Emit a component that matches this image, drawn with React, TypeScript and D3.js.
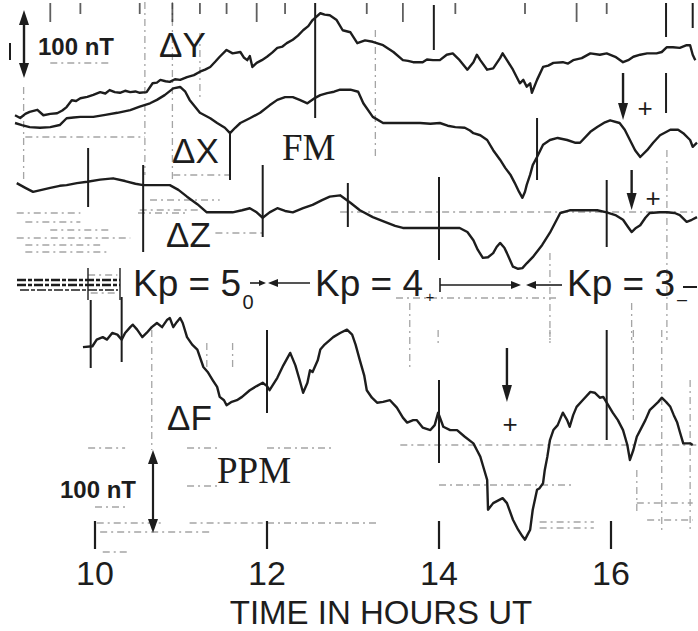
import React from 'react';
import * as d3 from 'd3';

type Pt = [number, number]; // [hour UT, deflection nT]

const hourTicks = [10, 12, 14, 16];
const axisTitle = 'TIME IN HOURS UT';

// Fluxgate magnetometer (FM) components, nT relative to each trace's reference level
const deltaY: Pt[] = [
  [9.07, 7], [9.13, 3], [9.19, 9], [9.24, 12], [9.33, 15], [9.4, 7], [9.48, 9], [9.56, 10], [9.62, 14], [9.67, 19], [9.73, 29],
  [9.78, 28], [9.83, 32], [9.91, 34], [9.98, 37], [10.06, 41], [10.12, 39], [10.17, 44], [10.23, 41], [10.29, 40], [10.35, 43], [10.41, 41],
  [10.47, 42], [10.52, 40], [10.6, 41], [10.67, 54], [10.72, 55], [10.76, 59], [10.82, 57], [10.87, 56], [10.93, 60], [10.99, 59], [11.07, 63], [11.15, 66], [11.22, 71],
  [11.28, 74], [11.34, 78], [11.4, 86], [11.45, 93], [11.53, 103], [11.6, 98], [11.69, 100], [11.73, 92], [11.77, 88], [11.8, 94], [11.83, 78], [11.88, 84],
  [11.94, 88], [12.0, 93], [12.06, 99], [12.12, 106], [12.18, 108], [12.23, 113], [12.3, 118], [12.36, 124], [12.42, 132], [12.48, 138], [12.53, 147],
  [12.62, 157], [12.67, 155], [12.73, 154], [12.81, 147], [12.88, 132], [12.97, 129], [13.05, 113], [13.14, 117], [13.23, 115],
  [13.35, 110], [13.47, 100], [13.58, 88], [13.64, 87], [13.7, 85], [13.81, 85], [13.86, 89], [13.93, 88], [14.01, 88], [14.09, 96],
  [14.16, 98], [14.24, 88], [14.33, 74], [14.4, 85], [14.44, 96], [14.48, 88], [14.56, 74], [14.63, 76], [14.71, 91],
  [14.74, 98], [14.79, 88], [14.86, 74], [14.94, 54], [14.98, 59], [15.02, 49], [15.06, 54], [15.08, 40], [15.14, 59],
  [15.21, 78], [15.27, 80], [15.33, 84], [15.44, 85], [15.5, 83], [15.56, 88], [15.66, 91], [15.76, 98], [15.87, 96], [15.95, 98], [16.05, 93],
  [16.14, 85], [16.2, 88], [16.26, 93], [16.34, 96], [16.42, 98], [16.53, 98], [16.59, 100], [16.65, 107],
  [16.72, 107], [16.8, 106], [16.88, 110], [16.92, 110], [16.95, 96], [16.98, 88],
];

const deltaX: Pt[] = [
  [9.07, 25], [9.15, 22], [9.24, 19], [9.36, 18], [9.48, 19], [9.59, 22], [9.67, 32], [9.75, 33], [9.83, 34], [9.98, 34], [10.12, 37],
  [10.26, 40], [10.41, 44], [10.52, 49], [10.64, 54], [10.72, 59], [10.81, 66], [10.91, 76], [10.99, 78],
  [11.05, 71], [11.1, 59], [11.22, 40], [11.34, 32], [11.42, 25], [11.51, 18], [11.57, 10], [11.63, 18],
  [11.69, 25], [11.8, 32], [11.92, 40], [12.03, 51], [12.12, 59], [12.21, 63], [12.3, 63], [12.38, 59],
  [12.47, 54], [12.56, 62], [12.62, 66], [12.7, 69], [12.78, 71], [12.85, 74], [12.97, 74], [13.06, 71],
  [13.12, 54], [13.23, 34], [13.35, 25], [13.49, 25], [13.63, 25], [13.78, 25], [13.9, 24], [14.01, 25],
  [14.1, 21], [14.19, 19], [14.3, 18], [14.36, 14], [14.4, 10], [14.48, 7], [14.56, 0], [14.63, -15], [14.71, -29],
  [14.77, -41], [14.83, -51], [14.88, -63], [14.93, -76], [14.97, -85], [15.0, -76], [15.02, -66], [15.06, -51],
  [15.09, -37], [15.14, -25], [15.21, -7], [15.29, 0], [15.38, 3], [15.49, 0], [15.58, -4], [15.64, -4],
  [15.76, 12], [15.84, 19], [15.93, 26], [15.99, 29], [16.1, 25], [16.16, 15], [16.22, 0], [16.28, -15],
  [16.34, -25], [16.42, -15], [16.49, -4], [16.57, 7], [16.69, 15], [16.78, 15], [16.84, 10], [16.92, 0],
  [16.95, -10], [17.0, -4],
];

const deltaZ: Pt[] = [
  [9.09, 69], [9.19, 62], [9.28, 56], [9.38, 59], [9.48, 62], [9.59, 65], [9.67, 66], [9.79, 69], [9.91, 71],
  [10.06, 74], [10.21, 76], [10.35, 72], [10.47, 68], [10.56, 66], [10.7, 66], [10.87, 66], [10.97, 59],
  [11.07, 49], [11.19, 38], [11.3, 26], [11.45, 26], [11.6, 26], [11.71, 29], [11.8, 32], [11.88, 26],
  [11.95, 18], [12.03, 26], [12.12, 32], [12.21, 28], [12.3, 26], [12.42, 32], [12.53, 37], [12.64, 44],
  [12.73, 49], [12.85, 51], [12.97, 40], [13.08, 29], [13.23, 19], [13.37, 12], [13.49, 6], [13.58, 3],
  [13.78, 3], [14.01, 3], [14.24, 3], [14.33, -3], [14.4, -15], [14.45, -29], [14.51, -41], [14.57, -40],
  [14.63, -34], [14.67, -25], [14.71, -19], [14.76, -26], [14.79, -34], [14.86, -54], [14.92, -57], [14.97, -56],
  [15.02, -49], [15.09, -40], [15.2, -22], [15.29, -4], [15.41, 25], [15.52, 29], [15.64, 29], [15.76, 29],
  [15.84, 29], [15.95, 26], [16.05, 22], [16.14, 15], [16.2, 4], [16.24, -3], [16.29, 3], [16.34, 7], [16.4, 18],
  [16.45, 25], [16.57, 26], [16.65, 26], [16.74, 25], [16.8, 22], [16.88, 12], [16.94, 15], [17.0, 19],
];

// Proton precession magnetometer (PPM) total field
const deltaF: Pt[] = [
  [9.86, 124], [9.97, 125], [10.02, 133], [10.09, 136], [10.14, 133], [10.2, 141], [10.26, 139], [10.31, 133],
  [10.35, 141], [10.41, 148], [10.44, 151], [10.49, 145], [10.55, 136], [10.6, 141], [10.66, 148], [10.72, 153],
  [10.78, 148], [10.84, 157], [10.87, 159], [10.91, 148], [10.95, 154], [10.99, 159], [11.02, 153], [11.07, 136],
  [11.13, 127], [11.19, 121], [11.26, 100], [11.31, 94], [11.37, 84], [11.42, 76], [11.45, 64], [11.5, 60],
  [11.53, 54], [11.59, 58], [11.65, 60], [11.71, 64], [11.8, 72], [11.88, 77], [11.95, 81], [12.0, 77],
  [12.03, 72], [12.12, 87], [12.19, 102], [12.27, 117], [12.33, 102], [12.38, 84], [12.42, 69], [12.47, 81],
  [12.5, 96], [12.53, 94], [12.59, 108], [12.62, 121], [12.67, 127], [12.77, 136], [12.85, 141], [12.93, 145],
  [12.99, 139], [13.03, 127], [13.08, 108], [13.13, 90], [13.16, 72], [13.22, 63], [13.28, 57], [13.35, 58],
  [13.43, 60], [13.51, 51], [13.58, 39], [13.63, 33], [13.7, 36], [13.74, 36], [13.81, 27], [13.9, 24],
  [13.95, 30], [13.99, 45], [14.05, 28], [14.13, 24], [14.21, 24], [14.3, 16], [14.4, 8], [14.44, 0],
  [14.48, -8], [14.52, -22], [14.56, -36], [14.57, -72], [14.63, -64], [14.74, -58], [14.79, -64], [14.86, -84],
  [14.92, -96], [14.97, -104], [15.0, -108], [15.03, -102], [15.06, -96], [15.09, -72], [15.14, -48],
  [15.17, -46], [15.21, -40], [15.23, -24], [15.26, -8], [15.29, 12], [15.33, 24], [15.38, 30], [15.44, 45],
  [15.49, 36], [15.52, 28], [15.56, 42], [15.6, 52], [15.67, 60], [15.76, 70], [15.81, 69], [15.87, 63],
  [15.91, 64], [15.95, 57], [16.02, 45], [16.08, 36], [16.14, 24], [16.19, 6], [16.22, -12], [16.26, 0],
  [16.3, 16], [16.34, 24], [16.4, 36], [16.45, 48], [16.49, 52], [16.55, 58], [16.59, 63], [16.64, 58],
  [16.69, 52], [16.73, 42], [16.77, 33], [16.8, 22], [16.84, 8], [16.92, 8], [16.95, 6],
];

// Kp boundaries (UT hours) between 3-hour intervals
const kpBoundaries = [12, 15];
const kpLabels = ['Kp = 5', 'Kp = 4', 'Kp = 3'];
const kpSubscripts = ['0', '+', '\u2013'];

// Times of the arrows marking the onset events
const eventTimes = { y: 16.14, z: 16.24, f: 14.79 };

const INK = '#1d1d1d';
const SANS = '"Liberation Sans", Arial, Helvetica, sans-serif';
const SERIF = '"Liberation Serif", "Times New Roman", serif';

const x = d3.scaleLinear().domain([10, 16]).range([95, 611]);
const fmPx = 0.68; // px per nT on fluxgate record
const ppmPx = 0.83; // px per nT on PPM record
const traceY = (base: number, k: number) => d3.scaleLinear().domain([0, 100]).range([base, base - 100 * k]);

const yDY = traceY(120, fmPx);
const yDX = traceY(140, fmPx);
const yDZ = traceY(230, fmPx);
const yDF = traceY(450, ppmPx);

const linePath = (data: Pt[], y: d3.ScaleLinear<number, number>) =>
  d3.line<Pt>().x((d) => x(d[0])).y((d) => y(d[1]))(data) || '';

// Record marks on the chart paper: [hour, y1, y2]
const solidMarks: [number, number, number][] = [
  [12.56, 3, 118], [11.57, 132, 180], [11.95, 165, 237], [9.92, 148, 207], [10.56, 165, 252],
  [12.94, 183, 227], [14.0, 177, 260], [15.95, 180, 247], [13.94, 5, 50], [15.14, 118, 180],
  [16.64, 3, 37], [16.64, 73, 113], [16.95, 3, 28], [14.0, 380, 463], [15.95, 330, 440],
  [12.0, 330, 413], [9.95, 300, 368], [10.31, 297, 362],
];
const dashedMarks: [number, number, number][] = [
  [13.26, 30, 160], [10.9, 2, 180], [11.22, 33, 100], [9.17, 87, 180], [10.58, 2, 175],
  [16.26, 330, 420], [16.59, 330, 530], [16.92, 380, 530], [15.29, 253, 340], [16.65, 150, 340],
  [16.24, 303, 340], [13.66, 303, 370], [10.66, 330, 450], [11.3, 343, 367], [11.6, 343, 367],
  [16.3, 470, 515], [15.29, 330, 347], [13.99, 330, 345],
];
const topTicks = [9.48, 9.83, 10.52, 10.9, 11.22, 11.53, 11.88, 12.21, 13.16, 13.58, 14.19, 15.0, 15.6, 15.95];
// Horizontal paper marks: [y, hourStart, hourEnd]
const paperLines: [number, number, number][] = [
  [63, 9.48, 10.17], [137, 9.19, 10.58], [212, 12.85, 17.0], [213, 10.5, 11.07], [175, 10.91, 11.57],
  [213, 9.09, 9.83], [222, 9.19, 9.83], [230, 9.48, 10.17], [238, 9.09, 10.41], [245, 9.19, 10.06],
  [252, 9.19, 10.17], [200, 10.64, 11.45], [210, 10.52, 11.22], [233, 11.4, 11.95],
  [275, 9.92, 10.26], [293, 9.95, 10.26], [298, 13.5, 15.4], [448, 9.92, 10.35], [448, 11.07, 11.45],
  [448, 12.0, 12.78], [486, 11.07, 11.45], [445, 13.55, 17.0], [485, 14.0, 15.55], [522, 15.17, 15.8],
  [528, 15.17, 15.8], [503, 16.3, 16.95], [520, 16.42, 16.95], [523, 10.02, 10.8], [523, 11.1, 11.95],
  [523, 12.0, 13.3], [532, 10.06, 11.34], [552, 10.09, 10.41], [507, 10.0, 10.38],
];

const Arrowhead = ({ cx, tip, dir, w = 5, len = 14 }: { cx: number; tip: number; dir: 1 | -1; w?: number; len?: number }) => (
  <path d={`M${cx},${tip} L${cx - w},${tip - dir * len} L${cx + w},${tip - dir * len} Z`} fill={INK} />
);

const HArrowhead = ({ cy, tip, dir, w = 4, len = 10 }: { cy: number; tip: number; dir: 1 | -1; w?: number; len?: number }) => (
  <path d={`M${tip},${cy} L${tip - dir * len},${cy - w} L${tip - dir * len},${cy + w} Z`} fill={INK} />
);

export default function App() {
  const traceStyle = { fill: 'none', stroke: INK, strokeWidth: 2.4, strokeLinejoin: 'round' as const };
  const calTopY1 = 10;
  const calTopY2 = calTopY1 + 100 * fmPx;
  const calBotY1 = 450;
  const calBotY2 = calBotY1 + 100 * ppmPx;
  const kpY = 283;
  const b0 = x(kpBoundaries[0]);
  const b1 = x(kpBoundaries[1]);

  return (
    <svg width={698} height={631} style={{ position: 'absolute', left: 0, top: 0, background: '#fff' }}>
      <rect width={698} height={631} fill="#fff" />

      {/* paper record marks */}
      <g stroke="#3a3a3a" strokeWidth={1.3} opacity={0.45} strokeDasharray="7 4 2 4">
        {paperLines.map(([yy, h0, h1], i) => (
          <line key={i} x1={x(h0)} x2={x(h1)} y1={yy} y2={yy} />
        ))}
        {dashedMarks.map(([h, y1, y2], i) => (
          <line key={`d${i}`} x1={x(h)} x2={x(h)} y1={y1} y2={y2} />
        ))}
      </g>
      <g stroke="#2a2a2a" strokeWidth={1.8} opacity={0.75}>
        {topTicks.map((h, i) => (
          <line key={i} x1={x(h)} x2={x(h)} y1={3} y2={i % 3 === 0 ? 22 : 14} />
        ))}
      </g>
      <g stroke={INK} strokeWidth={2}>
        {solidMarks.map(([h, y1, y2], i) => (
          <line key={i} x1={x(h)} x2={x(h)} y1={y1} y2={y2} />
        ))}
      </g>

      {/* Kp row scribble at left */}
      <g stroke={INK} strokeWidth={2.6} strokeDasharray="9 2 4 2">
        <line x1={17} x2={120} y1={kpY - 3} y2={kpY - 3} />
        <line x1={17} x2={120} y1={kpY + 2} y2={kpY + 2} />
        <line x1={20} x2={118} y1={kpY + 7} y2={kpY + 7} strokeWidth={1.4} />
      </g>
      <g stroke={INK} strokeWidth={1.4}>
        <line x1={88} x2={88} y1={268} y2={300} />
        <line x1={120} x2={120} y1={268} y2={300} />
      </g>

      {/* traces */}
      <path d={linePath(deltaY, yDY)} {...traceStyle} />
      <path d={linePath(deltaX, yDX)} {...traceStyle} />
      <path d={linePath(deltaZ, yDZ)} {...traceStyle} />
      <path d={linePath(deltaF, yDF)} {...traceStyle} />

      {/* calibration bars */}
      <line x1={10} x2={10} y1={43} y2={60} stroke={INK} strokeWidth={2} />
      <line x1={24} x2={24} y1={calTopY1 + 8} y2={calTopY2 - 8} stroke={INK} strokeWidth={2.4} />
      <Arrowhead cx={24} tip={calTopY1} dir={-1} w={5} len={15} />
      <Arrowhead cx={24} tip={calTopY2} dir={1} w={5} len={15} />
      <text x={38} y={55} fontFamily={SANS} fontWeight="bold" fontSize={24} fill={INK}>100 nT</text>

      <line x1={153} x2={153} y1={calBotY1 + 8} y2={calBotY2 - 8} stroke={INK} strokeWidth={2.2} />
      <Arrowhead cx={153} tip={calBotY1} dir={-1} w={5} len={14} />
      <Arrowhead cx={153} tip={calBotY2} dir={1} w={5} len={14} />
      <text x={60} y={498} fontFamily={SANS} fontWeight="bold" fontSize={24} fill={INK}>100 nT</text>

      {/* component labels */}
      <g fontFamily={SANS} fontSize={35} fill={INK}>
        <text x={159} y={57}>ΔY</text>
        <text x={172} y={163}>ΔX</text>
        <text x={166} y={247}>ΔZ</text>
        <text x={167} y={430}>ΔF</text>
      </g>
      <g fontFamily={SERIF} fontSize={37} fill={INK}>
        <text x={282} y={160}>FM</text>
        <text x={217} y={483}>PPM</text>
      </g>

      {/* event arrows */}
      {[
        { h: eventTimes.y, y1: 73, y2: 120, px: 645, py: 117 },
        { h: eventTimes.z, y1: 170, y2: 210, px: 653, py: 207 },
        { h: eventTimes.f, y1: 348, y2: 402, px: 510, py: 433 },
      ].map((a, i) => (
        <g key={i}>
          <line x1={x(a.h)} x2={x(a.h)} y1={a.y1} y2={a.y2 - 10} stroke={INK} strokeWidth={2.4} />
          <Arrowhead cx={x(a.h)} tip={a.y2} dir={1} w={5} len={17} />
          <text x={a.px} y={a.py} textAnchor="middle" fontFamily={SANS} fontSize={26} fill={INK}>+</text>
        </g>
      ))}

      {/* Kp row */}
      <g fontFamily={SANS} fontSize={37} fill={INK}>
        <text x={133} y={kpY + 13}>{kpLabels[0]}</text>
        <text x={315} y={kpY + 13}>{kpLabels[1]}</text>
        <text x={567} y={kpY + 13}>{kpLabels[2]}</text>
      </g>
      <g fontFamily={SANS} fill={INK}>
        <text x={248} y={kpY + 26} fontSize={20} textAnchor="middle">{kpSubscripts[0]}</text>
        <text x={430} y={kpY + 19} fontSize={15} textAnchor="middle">{kpSubscripts[1]}</text>
        <text x={682} y={kpY + 22} fontSize={18} textAnchor="middle">{kpSubscripts[2]}</text>
      </g>
      <line x1={683} x2={697} y1={kpY + 4} y2={kpY + 4} stroke={INK} strokeWidth={2} />
      <g stroke={INK} strokeWidth={1.6}>
        <line x1={250} x2={b0 - 5} y1={kpY} y2={kpY} />
        <line x1={b0 + 6} x2={310} y1={kpY} y2={kpY} />
        <line x1={440} x2={b1 - 10} y1={kpY + 2} y2={kpY + 2} />
        <line x1={440} x2={440} y1={kpY - 5} y2={kpY + 9} />
        <line x1={b1 + 8} x2={562} y1={kpY + 2} y2={kpY + 2} />
      </g>
      <HArrowhead cy={kpY} tip={b0 - 1} dir={1} w={3} len={7} />
      <HArrowhead cy={kpY} tip={b0 + 1} dir={-1} w={4} len={10} />
      <HArrowhead cy={kpY + 2} tip={b1 - 4} dir={1} w={4} len={10} />
      <HArrowhead cy={kpY + 2} tip={b1 + 1} dir={-1} w={4} len={10} />

      {/* time axis */}
      <g stroke={INK} strokeWidth={2.2}>
        {hourTicks.map((h) => (
          <line key={h} x1={x(h)} x2={x(h)} y1={521} y2={549} />
        ))}
      </g>
      <g fontFamily={SANS} fill={INK} textAnchor="middle">
        {hourTicks.map((h) => (
          <text key={h} x={x(h)} y={585} fontSize={34}>{h}</text>
        ))}
        <text x={381} y={624} fontSize={33}>{axisTitle}</text>
      </g>
    </svg>
  );
}
